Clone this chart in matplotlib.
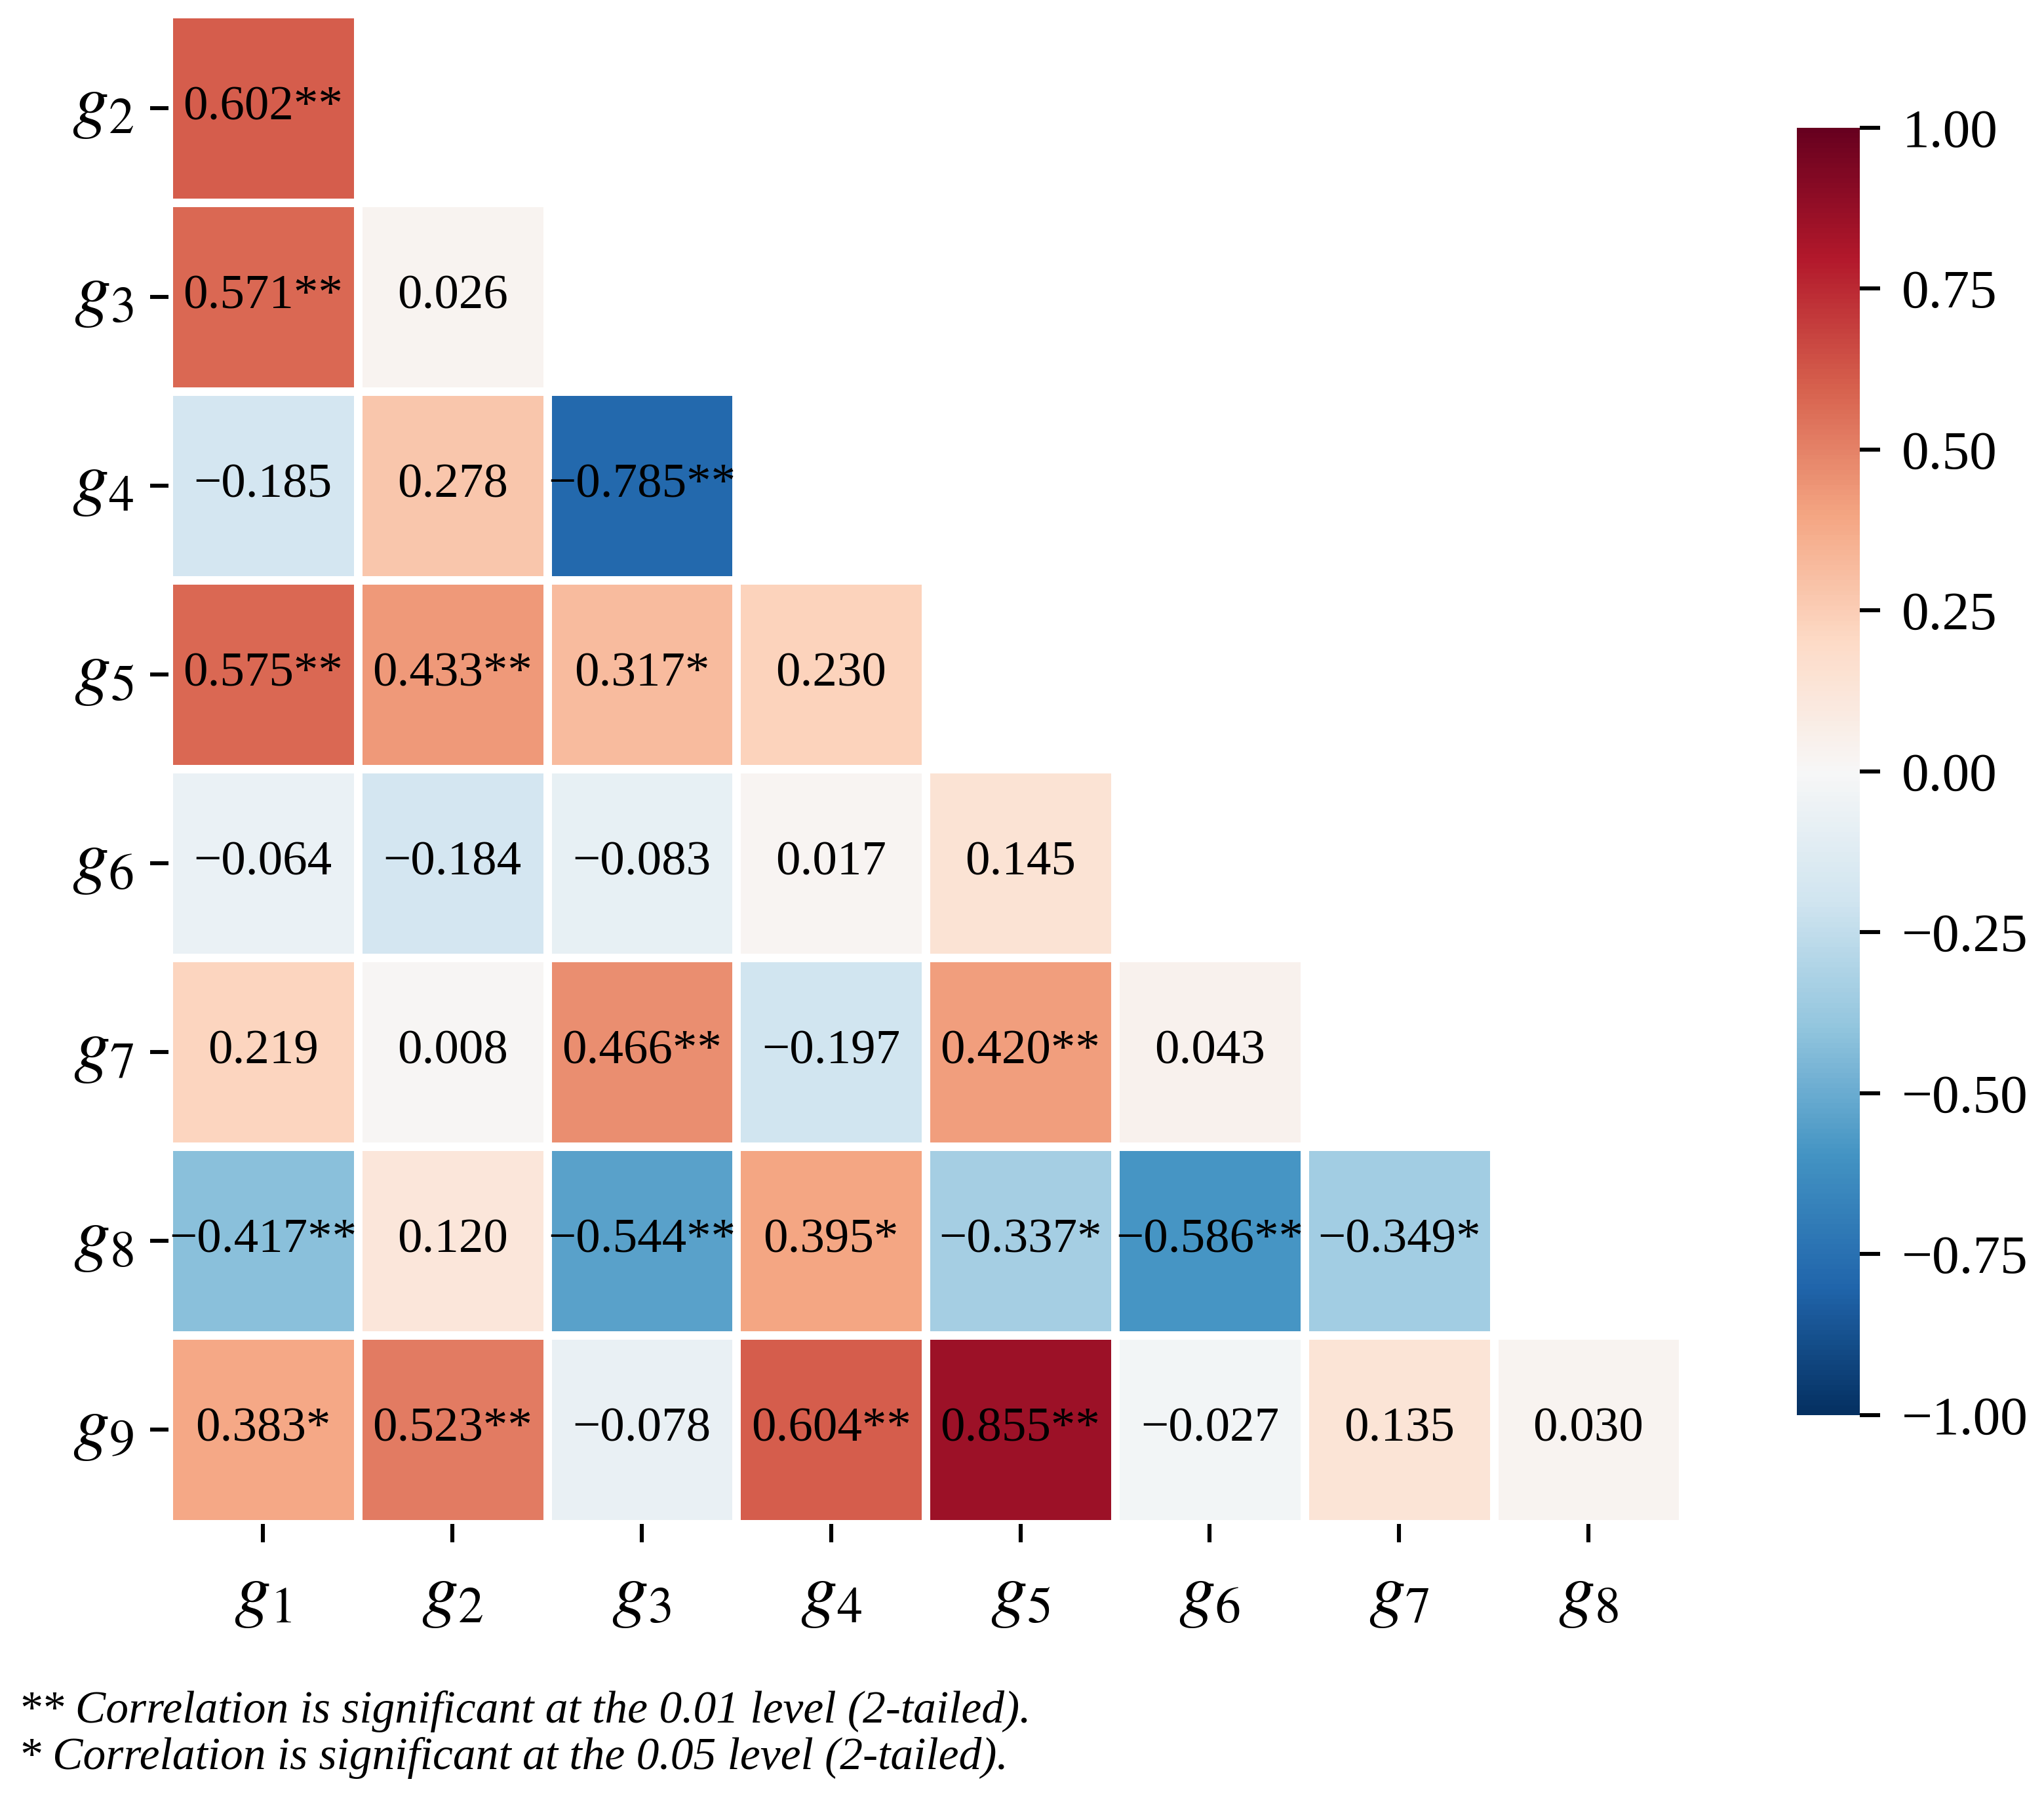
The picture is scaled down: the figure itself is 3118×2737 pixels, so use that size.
import numpy as np
import matplotlib
matplotlib.use("Agg")
import matplotlib.pyplot as plt
import seaborn as sns

# rows g2..g9, columns g1..g8 (lower triangle)
row_names = ["g_{2}", "g_{3}", "g_{4}", "g_{5}", "g_{6}", "g_{7}", "g_{8}", "g_{9}"]
col_names = ["g_{1}", "g_{2}", "g_{3}", "g_{4}", "g_{5}", "g_{6}", "g_{7}", "g_{8}"]

r_g2 = [0.602]
r_g3 = [0.571, 0.026]
r_g4 = [-0.185, 0.278, -0.785]
r_g5 = [0.575, 0.433, 0.317, 0.230]
r_g6 = [-0.064, -0.184, -0.083, 0.017, 0.145]
r_g7 = [0.219, 0.008, 0.466, -0.197, 0.420, 0.043]
r_g8 = [-0.417, 0.120, -0.544, 0.395, -0.337, -0.586, -0.349]
r_g9 = [0.383, 0.523, -0.078, 0.604, 0.855, -0.027, 0.135, 0.030]

# significance stars, same layout
s_g2 = ["**"]
s_g3 = ["**", ""]
s_g4 = ["", "", "**"]
s_g5 = ["**", "**", "*", ""]
s_g6 = ["", "", "", "", ""]
s_g7 = ["", "", "**", "", "**", ""]
s_g8 = ["**", "", "**", "*", "*", "**", "*"]
s_g9 = ["*", "**", "", "**", "**", "", "", ""]

cb_ticks = [-1.0, -0.75, -0.5, -0.25, 0.0, 0.25, 0.5, 0.75, 1.0]

rows = [r_g2, r_g3, r_g4, r_g5, r_g6, r_g7, r_g8, r_g9]
stars = [s_g2, s_g3, s_g4, s_g5, s_g6, s_g7, s_g8, s_g9]
n = len(col_names)
corr = np.full((n, n), np.nan)
annot = np.full((n, n), "", dtype=object)
for i in range(n):
    for j, v in enumerate(rows[i]):
        corr[i, j] = v
        annot[i, j] = f"{v:.3f}".replace("-", "\u2212") + stars[i][j]
mask = np.isnan(corr)

plt.rcParams['font.family'] = ['Liberation Serif', 'DejaVu Serif']
plt.rcParams['mathtext.fontset'] = 'stix'

fig = plt.figure(figsize=(15.59, 13.685), dpi=200)
ax = fig.add_axes([0.0824, 0.1505, 0.741, 0.842])
cax = fig.add_axes([0.879, 0.2112, 0.031, 0.7176])

sns.heatmap(corr, mask=mask, cmap="RdBu_r", vmin=-1, vmax=1,
            annot=annot, fmt="", annot_kws={"fontsize": 27, "color": "black"},
            linewidths=4, linecolor="white", square=False,
            ax=ax, cbar_ax=cax)

ax.set_xticks(np.arange(n) + 0.5)
ax.set_yticks(np.arange(n) + 0.5)
ax.set_xticklabels([f"${c}$" for c in col_names], fontsize=40, rotation=0)
ax.set_yticklabels([f"${r}$" for r in row_names], fontsize=40, rotation=0)
ax.tick_params(axis='both', length=10, width=2.2, color='black')
ax.tick_params(axis='y', pad=9)
ax.tick_params(axis='x', pad=12)
for sp in ax.spines.values():
    sp.set_visible(False)

cax.set_yticks(cb_ticks)
cax.set_yticklabels([f"{t:.2f}".replace("-", "\u2212") for t in cb_ticks], fontsize=30)
cax.tick_params(length=11, width=2.2, pad=12)
for sp in cax.spines.values():
    sp.set_visible(False)

fig.text(0.009, 0.040, "** Correlation is significant at the 0.01 level (2-tailed).",
         fontsize=25, style='italic', ha='left', va='baseline')
fig.text(0.009, 0.014, "* Correlation is significant at the 0.05 level (2-tailed).",
         fontsize=25, style='italic', ha='left', va='baseline')

fig.savefig("out.png", dpi=200)
